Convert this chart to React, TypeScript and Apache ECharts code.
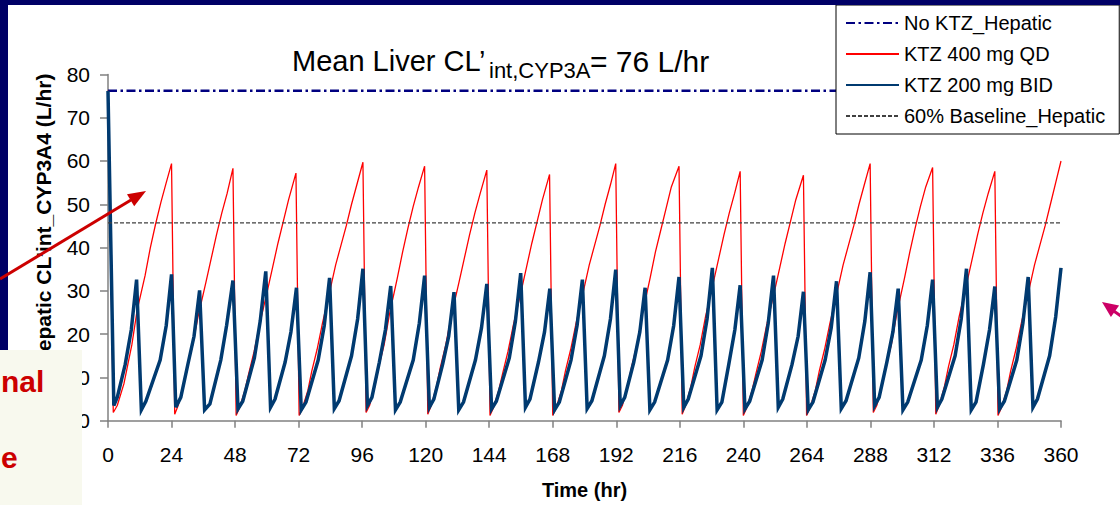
import React, { useEffect, useRef } from "react";
import * as echarts from "echarts";

const FONT = "Arial, 'Liberation Sans', Helvetica, sans-serif";

const seriesNames = ["No KTZ_Hepatic", "KTZ 400 mg QD", "KTZ 200 mg BID", "60% Baseline_Hepatic"];

const noKtzHepatic: [number, number][] = [[0, 76.2], [360, 76.2]];
const baseline60: [number, number][] = [[0, 45.7], [360, 45.7]];

const ktz400QD: [number, number][] = [
  [0, 76.2],
  [2, 1.9], [3.5, 3.5], [6, 8.5], [7.5, 13], [9, 17.5], [11, 25.5], [14, 33.5], [16, 40], [18, 45.5], [20, 50.5], [22, 55], [24, 59.4],
  [25.2, 1.5], [26.5, 3.5], [28.5, 8], [30, 12.5], [32, 17.5], [34, 24], [37, 32], [39, 37.5], [41, 43], [43, 48], [45, 52.5], [47.2, 58.3],
  [48.4, 1.2], [49.7, 3], [51.7, 7], [53.2, 11], [55.2, 16], [57.2, 22], [60.2, 30], [62.2, 35.5], [64.2, 41], [66.2, 46], [68.2, 51], [71, 57.2],
  [72.2, 1.2], [73.5, 3], [75.5, 7], [77, 11.5], [79, 16.5], [81, 22.5], [84, 30.5], [86, 36], [88, 40.5], [90, 45], [92, 50], [94, 54.5], [96.3, 59.7],
  [97.5, 1.9], [98.8, 3.5], [100.8, 8], [102.3, 12.5], [104.3, 17.5], [106.3, 24.5], [109.3, 33], [111.3, 39], [113.3, 44.5], [115.3, 49.5], [117.3, 54], [119.6, 58.8],
  [120.8, 1.5], [122.1, 3.5], [124.1, 8], [125.6, 12.5], [127.6, 17.5], [129.6, 24], [132.6, 32], [134.6, 37.5], [136.6, 43], [138.6, 48], [140.6, 52.5], [143.1, 57.9],
  [144.3, 1.2], [145.6, 3], [147.6, 7], [149.1, 11], [151.1, 16], [153.1, 22], [156.1, 30], [158.1, 35.5], [160.1, 41], [162.1, 46], [164.1, 51], [166.8, 56.9],
  [168, 1.2], [169.3, 3], [171.3, 7], [172.8, 11.5], [174.8, 16.5], [176.8, 22.5], [179.8, 30.5], [181.8, 36], [183.8, 40.5], [185.8, 45], [187.8, 50], [189.8, 54.5], [191.8, 59.4],
  [193, 1.9], [194.3, 3.5], [196.3, 8], [197.8, 12.5], [199.8, 17.5], [201.8, 24.5], [204.8, 33], [206.8, 39], [208.8, 44], [210.8, 49], [212.8, 54], [215.7, 58.8],
  [216.9, 1.5], [218.2, 3.5], [220.2, 8], [221.7, 12.5], [223.7, 17.5], [225.7, 24], [228.7, 32], [230.7, 37.5], [232.7, 43], [234.7, 48], [236.7, 52.5], [238.8, 57.6],
  [240, 1.2], [241.3, 3], [243.3, 7], [244.8, 11], [246.8, 16], [248.8, 22], [251.8, 30], [253.8, 35.5], [255.8, 41], [257.8, 46], [259.8, 51], [262.7, 56.7],
  [263.9, 1.2], [265.2, 3], [267.2, 7], [268.7, 11.5], [270.7, 16.5], [272.7, 22.5], [275.7, 30.5], [277.7, 36], [279.7, 40.5], [281.7, 45], [283.7, 50], [285.7, 54.5], [287.9, 59.4],
  [289.1, 1.9], [290.4, 3.5], [292.4, 8], [293.9, 12.5], [295.9, 17.5], [297.9, 24.5], [300.9, 33], [302.9, 39], [304.9, 44.5], [306.9, 49.5], [308.9, 54], [311.5, 58.5],
  [312.7, 1.5], [314, 3.5], [316, 8], [317.5, 12.5], [319.5, 17.5], [321.5, 24], [324.5, 32], [326.5, 37.5], [328.5, 43], [330.5, 48], [332.5, 52.5], [335, 57.6],
  [336.2, 1.2], [337.5, 3], [339.5, 7], [341, 11.5], [343, 16.5], [345, 22.5], [348, 30.5], [350, 36], [352, 40.5], [354, 45], [356, 50], [358, 55], [360, 60],
];

const ktz200BID: [number, number][] = [
  [0, 76.2],
  [2.2, 3.5], [3.5, 5.4], [6.5, 13], [8.8, 21], [10.8, 32.6],
  [12.6, 2.5], [14.3, 4.5], [19.7, 14], [22, 22], [24, 33.8],
  [25.6, 3.1], [27.5, 5.4], [30.2, 13.1], [32.5, 19.5], [34.6, 30.1],
  [36.5, 2.5], [38.5, 3.9], [42.6, 14], [44.8, 22], [47.2, 32.4],
  [49.1, 2.7], [50.9, 4.5], [55.3, 14.5], [57.5, 23], [59.6, 34.5],
  [61.4, 3.1], [63.1, 5], [66.9, 13.5], [69.1, 20.5], [71.2, 30.7],
  [73, 2.5], [74.8, 4.3], [79.4, 14], [81.7, 22], [83.7, 33],
  [85.5, 2.8], [87.3, 4.6], [92, 15], [94.3, 23.5], [96.3, 35.1],
  [98, 3.5], [99.7, 5.4], [102.5, 13.5], [104.8, 21], [106.8, 31.1],
  [108.6, 2.5], [110.4, 4.3], [115.3, 14], [117.6, 22.5], [119.6, 33.5],
  [121.4, 3.1], [123.1, 5], [126.4, 13], [128.7, 19.5], [130.7, 29.7],
  [132.5, 2.5], [134.3, 4.3], [138.8, 14], [141.1, 21.5], [143.1, 31.6],
  [144.9, 2.7], [146.7, 4.5], [151.6, 14.5], [153.9, 23], [155.9, 34.1],
  [157.7, 3.1], [159.4, 5], [162.6, 13.5], [164.9, 20.5], [166.9, 30.5],
  [168.7, 2.5], [170.5, 4.3], [174.9, 14], [177.2, 22], [179.2, 32.6],
  [181, 2.8], [182.8, 4.6], [187.5, 15], [189.8, 23.5], [191.8, 34.9],
  [193.5, 3.5], [195.2, 5.4], [198.6, 13.5], [200.9, 20.5], [202.9, 30.7],
  [204.7, 2.5], [206.5, 4.3], [211.4, 14], [213.7, 22], [215.7, 33.2],
  [217.5, 3.1], [219.2, 5], [224, 15], [226.3, 23.5], [228.3, 35.3],
  [230.1, 2.5], [231.9, 4.3], [234.5, 13], [236.8, 21], [238.8, 31.3],
  [240.6, 2.7], [242.4, 4.5], [247.1, 14], [249.4, 22.5], [251.4, 33.5],
  [253.2, 3.1], [254.9, 5], [258.4, 13], [260.7, 19.5], [262.7, 29.8],
  [264.5, 2.5], [266.3, 4.3], [270.9, 14], [273.2, 21.5], [275.2, 32.2],
  [277, 2.8], [278.8, 4.6], [283.6, 14.5], [285.9, 23], [287.9, 34.3],
  [289.6, 3.5], [291.3, 5.4], [294.2, 13.5], [296.5, 20.5], [298.5, 30.5],
  [300.3, 2.5], [302.1, 4.3], [307.2, 14], [309.5, 22], [311.5, 32.6],
  [313.3, 3.1], [315, 5], [320, 15], [322.3, 23.5], [324.3, 35.1],
  [326.1, 2.5], [327.9, 4.3], [330.7, 13], [333, 21], [335, 31],
  [336.8, 2.7], [338.6, 4.5], [343.3, 14], [345.6, 22.5], [347.6, 33.2],
  [349.4, 3.1], [351.1, 5], [355.7, 15], [358, 24], [360, 35.3],
];

const TITLE_MAIN = "Mean Liver CL\u2019";
const TITLE_SUB = "int,CYP3A";
const TITLE_TAIL = "= 76 L/hr";
const Y_TITLE = "Hepatic CL\u2019int_CYP3A4 (L/hr)";
const X_TITLE = "Time (hr)";
const SIDE_TEXT_1 = "nal";
const SIDE_TEXT_2 = "e";

export default function App() {
  const ref = useRef<HTMLDivElement>(null);
  useEffect(() => {
    if (!ref.current) return;
    const chart = echarts.init(ref.current, null, { renderer: "svg" });
    const axisGray = "#808080";
    const option: any = {
      animation: false,
      backgroundColor: "#ffffff",
      grid: { left: 108, right: 59, top: 74.4, bottom: 84.3, containLabel: false },
      legend: {
        data: seriesNames,
        orient: "vertical",
        left: 836,
        top: 5,
        backgroundColor: "#ffffff",
        borderColor: "#000000",
        borderWidth: 1,
        borderRadius: 0,
        padding: [8, 14, 8, 9],
        itemGap: 11,
        itemWidth: 53,
        itemHeight: 14,
        itemStyle: { opacity: 0, borderWidth: 0 },
        textStyle: { fontSize: 20, color: "#000", fontFamily: FONT },
        selectedMode: false,
        z: 10,
      },
      xAxis: {
        type: "value",
        min: 0,
        max: 360,
        interval: 24,
        name: X_TITLE,
        nameLocation: "middle",
        nameGap: 59,
        nameTextStyle: { fontSize: 20, fontWeight: "bold", color: "#000", fontFamily: FONT },
        axisLine: { show: true, lineStyle: { color: axisGray, width: 1.5 } },
        axisTick: { show: true, length: 7, lineStyle: { color: axisGray, width: 1.5 } },
        axisLabel: { fontSize: 21, color: "#000", margin: 23, fontFamily: FONT },
        splitLine: { show: false },
      },
      yAxis: {
        type: "value",
        min: 0,
        max: 80,
        interval: 10,
        axisLine: { show: true, lineStyle: { color: axisGray, width: 1.5 } },
        axisTick: { show: true, length: 8, lineStyle: { color: axisGray, width: 1.5 } },
        axisLabel: { fontSize: 21, color: "#000", margin: 18, fontFamily: FONT },
        splitLine: { show: false },
      },
      series: [
        {
          name: seriesNames[0],
          type: "line",
          data: noKtzHepatic,
          symbol: "none",
          itemStyle: { color: "#000080" },
          lineStyle: { color: "#000080", width: 2.5, type: [9, 3.5, 2.5, 3.5] },
        },
        {
          name: seriesNames[1],
          type: "line",
          data: ktz400QD,
          symbol: "none",
          itemStyle: { color: "#ff0000" },
          lineStyle: { color: "#ff0000", width: 1.3 },
        },
        {
          name: seriesNames[2],
          type: "line",
          data: ktz200BID,
          symbol: "none",
          itemStyle: { color: "#003a70" },
          lineStyle: { color: "#003a70", width: 3.5, join: "miter" },
        },
        {
          name: seriesNames[3],
          type: "line",
          data: baseline60,
          symbol: "none",
          itemStyle: { color: "#404040" },
          lineStyle: { color: "#404040", width: 1.2, type: [4, 2] },
        },
      ],
      graphic: [
        { type: "rect", z: 100, shape: { x: 0, y: 0, width: 1120, height: 5 }, style: { fill: "#000066" } },
        { type: "rect", z: 100, shape: { x: 0, y: 0, width: 8, height: 350 }, style: { fill: "#000066" } },
        {
          type: "text", z: 100, x: 292, y: 61.1,
          style: { text: TITLE_MAIN, fontSize: 29, fontFamily: FONT, fill: "#000", align: "left", verticalAlign: "middle", textAlign: "left", textVerticalAlign: "middle" },
        },
        {
          type: "text", z: 100, x: 489, y: 70.5,
          style: { text: TITLE_SUB, fontSize: 22, fontFamily: FONT, fill: "#000", align: "left", verticalAlign: "middle", textAlign: "left", textVerticalAlign: "middle" },
        },
        {
          type: "text", z: 100, x: 590, y: 61.1,
          style: { text: TITLE_TAIL, fontSize: 30, fontFamily: FONT, fill: "#000", align: "left", verticalAlign: "middle", textAlign: "left", textVerticalAlign: "middle" },
        },
        {
          type: "text", z: 100, x: 43, y: 220, rotation: Math.PI / 2,
          style: { text: Y_TITLE, fontSize: 21, fontWeight: "bold", fontFamily: FONT, fill: "#000", align: "center", verticalAlign: "middle", textAlign: "center", textVerticalAlign: "middle" },
        },
        { type: "rect", z: 101, shape: { x: 0, y: 350, width: 82, height: 155 }, style: { fill: "#f8f9ee" } },
        {
          type: "text", z: 102, x: 1, y: 381,
          style: { text: SIDE_TEXT_1, fontSize: 30, fontWeight: "bold", fontFamily: FONT, fill: "#cc0000", align: "left", verticalAlign: "middle", textAlign: "left", textVerticalAlign: "middle" },
        },
        {
          type: "text", z: 102, x: 1, y: 457,
          style: { text: SIDE_TEXT_2, fontSize: 30, fontWeight: "bold", fontFamily: FONT, fill: "#cc0000", align: "left", verticalAlign: "middle", textAlign: "left", textVerticalAlign: "middle" },
        },
        { type: "line", z: 103, shape: { x1: 0, y1: 279, x2: 131, y2: 200 }, style: { stroke: "#cc0000", lineWidth: 3 } },
        { type: "polygon", z: 103, shape: { points: [[146, 191], [134.2, 206.3], [127, 194.3]] }, style: { fill: "#cc0000" } },
        { type: "line", z: 103, shape: { x1: 1113, y1: 310.5, x2: 1135, y2: 326 }, style: { stroke: "#cc0066", lineWidth: 3 } },
        { type: "polygon", z: 103, shape: { points: [[1102, 302], [1110.9, 317], [1119.1, 305.6]] }, style: { fill: "#cc0066" } },
      ],
    };
    chart.setOption(option);
    return () => chart.dispose();
  }, []);
  return (
    <div
      ref={ref}
      style={{ position: "fixed", left: 0, top: 0, width: 1120, height: 505, background: "#fff" }}
    />
  );
}
